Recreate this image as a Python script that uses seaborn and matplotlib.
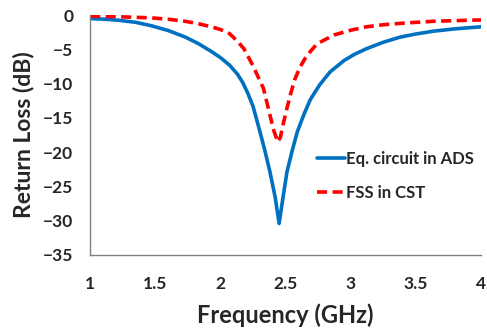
import matplotlib
matplotlib.use("Agg")
import matplotlib.pyplot as plt
import seaborn as sns
import pandas as pd

# Eq. circuit in ADS
freq_ads = [1.0, 1.1, 1.22, 1.35, 1.47, 1.6, 1.73, 1.83, 1.93, 2.0, 2.07, 2.13, 2.17,
            2.21, 2.25, 2.3, 2.34, 2.38, 2.42, 2.45, 2.48, 2.51, 2.55, 2.59, 2.64,
            2.69, 2.76, 2.84, 2.95, 3.03, 3.12, 3.25, 3.38, 3.5, 3.63, 3.8, 4.0]
rl_ads = [-0.5, -0.58, -0.75, -1.05, -1.55, -2.25, -3.2, -4.15, -5.3, -6.2, -7.3, -8.6, -9.8,
          -11.4, -13.3, -16.8, -19.7, -22.9, -26.6, -30.4, -26.6, -22.9, -19.8, -17.0, -14.5,
          -12.3, -10.2, -8.3, -6.6, -5.7, -4.9, -3.95, -3.2, -2.75, -2.35, -2.0, -1.7]

# FSS in CST
freq_cst = [1.0, 1.2, 1.47, 1.6, 1.73, 1.83, 1.93, 2.0, 2.07, 2.13, 2.18, 2.25, 2.33, 2.38,
            2.41, 2.44, 2.46, 2.48, 2.51, 2.535, 2.57, 2.61, 2.65, 2.69, 2.74, 2.82,
            2.87, 3.0, 3.12, 3.25, 3.38, 3.5, 3.63, 3.8, 4.0]
rl_cst = [-0.15, -0.22, -0.4, -0.6, -0.9, -1.25, -1.7, -2.1, -2.7, -3.8, -4.9, -7.4, -10.7,
          -14.6, -16.9, -18.5, -17.8, -16.0, -13.6, -11.7, -9.4, -7.6, -6.3, -5.3, -4.2,
          -3.4, -2.9, -2.2, -1.7, -1.4, -1.2, -1.05, -0.9, -0.8, -0.7]

sns.set_theme(style="white")
plt.rcParams['font.family'] = ['Lato', 'DejaVu Sans']

df_ads = pd.DataFrame({"f": freq_ads, "rl": rl_ads})
df_cst = pd.DataFrame({"f": freq_cst, "rl": rl_cst})

fig = plt.figure(figsize=(4.87, 3.29), dpi=100)
ax = fig.add_axes([0.185, 0.225, 0.803, 0.729])

sns.lineplot(data=df_ads, x="f", y="rl", ax=ax, color="#0070C0", linewidth=2.6,
             label="Eq. circuit in ADS")
sns.lineplot(data=df_cst, x="f", y="rl", ax=ax, color="#FF0000", linewidth=2.6,
             label="FSS in CST")
ax.lines[0].set_solid_joinstyle("round")
ax.lines[1].set_dashes([2.8, 1.5])

ax.set_xlim(1, 4)
ax.set_ylim(-35, 0)
ax.set_xticks([1, 1.5, 2, 2.5, 3, 3.5, 4])
ax.set_xticklabels(["1", "1.5", "2", "2.5", "3", "3.5", "4"])
ax.set_yticks(range(-35, 1, 5))
ax.tick_params(length=0, labelsize=12.5, pad=12)
ax.tick_params(axis="x", pad=15)
for lbl in ax.get_xticklabels() + ax.get_yticklabels():
    lbl.set_fontweight("bold")

ax.set_xlabel("Frequency (GHz)", fontsize=17, fontweight="bold", labelpad=8)
ax.set_ylabel("Return Loss (dB)", fontsize=16.5, fontweight="bold", labelpad=6)

for s in ["top", "right"]:
    ax.spines[s].set_visible(False)
for s in ["left", "bottom"]:
    ax.spines[s].set_color("#808080")
    ax.spines[s].set_linewidth(1.0)

leg = ax.legend(loc="upper left", bbox_to_anchor=(0.562, 0.46), frameon=False,
                prop={"size": 12, "weight": "bold"}, handlelength=1.7,
                handletextpad=0.05, labelspacing=1.05, borderaxespad=0)

fig.savefig("out.png", dpi=100)
